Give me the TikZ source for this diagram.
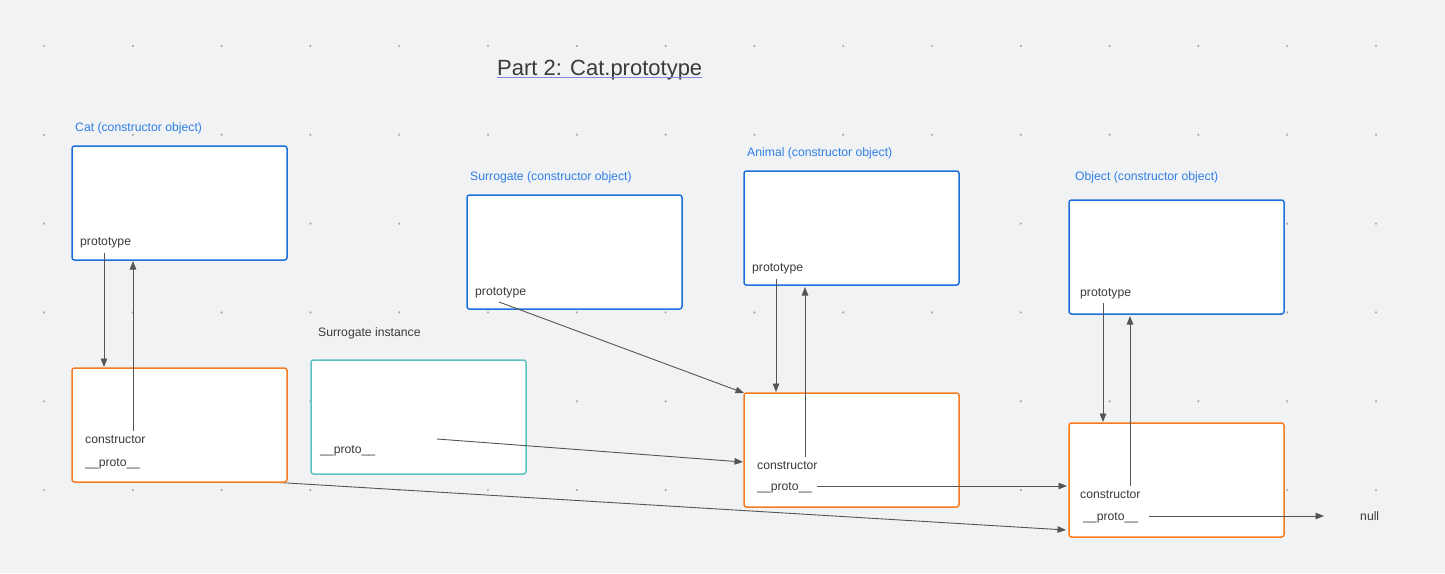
\documentclass[tikz,border=0pt]{standalone}
\usepackage{fontspec}
\setmainfont{Liberation Sans}
\usetikzlibrary{arrows.meta}
\definecolor{bgc}{HTML}{F1F2F4}
\definecolor{dotc}{HTML}{A9ABAE}
\definecolor{bluec}{HTML}{1F6FDB}
\definecolor{bluet}{HTML}{2F7FE6}
\definecolor{orangec}{HTML}{F57B20}
\definecolor{tealc}{HTML}{5CC2C3}
\definecolor{txtc}{HTML}{3A3A3A}
\definecolor{arrc}{HTML}{555555}
\definecolor{ulc}{HTML}{8585EE}
\tikzset{
  boxbase/.style={draw, fill=white, line width=1.5pt, rounded corners=2.5pt, anchor=north west, minimum width=215pt, minimum height=114pt, inner sep=0pt, outer sep=0pt},
  bluebox/.style={boxbase, draw=bluec},
  orangebox/.style={boxbase, draw=orangec},
  tealbox/.style={boxbase, draw=tealc},
  txt/.style={anchor=base west, inner sep=0pt, text=txtc, font=\fontsize{12.2}{14}\selectfont},
  lbl/.style={txt, text=bluet},
  conn/.style={draw=arrc, line width=0.9pt, -{Triangle[length=8.5pt,width=6.5pt]}},
}
\begin{document}
\begin{tikzpicture}[x=1pt,y=-1pt]
\fill[bgc] (0,0) rectangle (1445,573);
\useasboundingbox (0,0) rectangle (1445,573);
\foreach \i in {0,...,15}{\foreach \j in {0,...,5}{\fill[dotc] ({44+88.8*\i},{46+88.8*\j}) circle[radius=1.2pt];}}
% title
\node[txt, font=\fontsize{22}{26}\selectfont, text=txtc] (title) at (497,75) {Part 2: Cat.prototype};
\draw[ulc, line width=1.4pt] (title.base west) ++(0,2.5) -- ([yshift=-2.5pt]title.base east);
% lines under boxes
\coordinate (catpS) at (138,474);
\coordinate (objiE2) at (1066,530);
\draw[conn] (catpS) -- (objiE2);
% boxes
\node[bluebox] (cat) at (72,146) {};
\node[orangebox] (cati) at (72,368) {};
\node[tealbox] (suri) at (311,360) {};
\node[bluebox] (sur) at (467,195) {};
\node[bluebox] (ani) at (744,171) {};
\node[orangebox] (anii) at (744,393) {};
\node[bluebox] (obj) at (1069,200) {};
\node[orangebox] (obji) at (1069,423) {};
% labels
\node[lbl] (catl) at (75,131) {Cat (constructor object)};
\node[txt] (suril) at (318,336) {Surrogate instance};
\node[lbl] (surl) at (470,180) {Surrogate (constructor object)};
\node[lbl] (anil) at (747,156) {Animal (constructor object)};
\node[lbl] (objl) at (1075,180) {Object (constructor object)};
% fields
\node[txt] (catproto) at (80,245) {prototype};
\node[txt] (catcons) at (85,443) {constructor};
\node[txt] (catpr) at (85,466) {\_\_proto\_\_};
\node[txt] (surpr) at (320,453) {\_\_proto\_\_};
\node[txt] (surproto) at (475,295) {prototype};
\node[txt] (aniproto) at (752,271) {prototype};
\node[txt] (anicons) at (757,469) {constructor};
\node[txt] (anipr) at (757,490) {\_\_proto\_\_};
\node[txt] (objproto) at (1080,296) {prototype};
\node[txt] (objcons) at (1080,498) {constructor};
\node[txt] (objpr) at (1083,520) {\_\_proto\_\_};
\node[txt] (null) at (1360,520) {null};
% connector endpoints
\coordinate (c1a) at (104,253); \coordinate (c1b) at (104,367);
\coordinate (c2a) at (133,431); \coordinate (c2b) at (133,261);
\coordinate (c3a) at (499,302); \coordinate (c3b) at (744,393);
\coordinate (c4a) at (437,439); \coordinate (c4b) at (743,462);
\coordinate (c5a) at (776,279); \coordinate (c5b) at (776,392);
\coordinate (c6a) at (805,457); \coordinate (c6b) at (805,287);
\coordinate (c7a) at (817,486); \coordinate (c7b) at (1067,486);
\coordinate (c8a) at (1103,303); \coordinate (c8b) at (1103,422);
\coordinate (c9a) at (1130,486); \coordinate (c9b) at (1130,316);
\coordinate (c10a) at (1149,516); \coordinate (c10b) at (1324,516);
\draw[conn] (c1a) -- (c1b);
\draw[conn] (c2a) -- (c2b);
\draw[conn] (c3a) -- (c3b);
\draw[conn] (c4a) -- (c4b);
\draw[conn] (c5a) -- (c5b);
\draw[conn] (c6a) -- (c6b);
\draw[conn] (c7a) -- (c7b);
\draw[conn] (c8a) -- (c8b);
\draw[conn] (c9a) -- (c9b);
\draw[conn] (c10a) -- (c10b);
\end{tikzpicture}
\end{document}
